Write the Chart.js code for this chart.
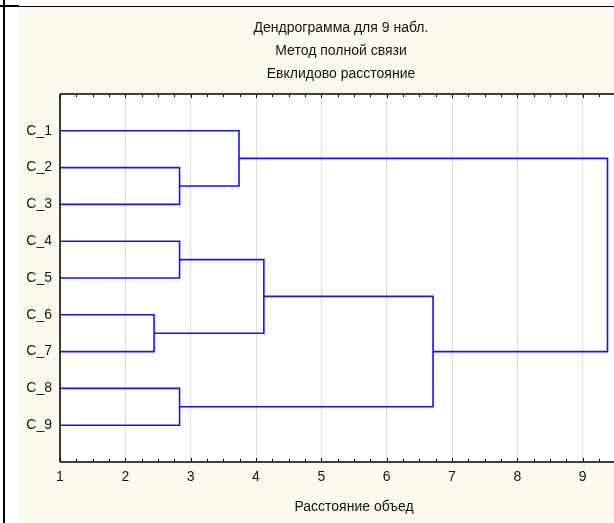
<!DOCTYPE html>
<html>
<head>
<meta charset="utf-8">
<script src="https://cdn.jsdelivr.net/npm/chart.js@4/dist/chart.umd.min.js"></script>
<style>
  html, body { margin: 0; padding: 0; width: 614px; height: 523px; overflow: hidden; background: #ffffff; }
  #vline { position: absolute; left: 3px; top: 0; width: 2px; height: 523px; background: #000; }
  #hline { position: absolute; left: 0; top: 6px; width: 614px; height: 1px; background: #000; }
  #hthick { position: absolute; left: 0; top: 5px; width: 19px; height: 2px; background: #000; }
  #panel { position: absolute; left: 19px; top: 7px; width: 644px; height: 516px; background: #fef9ee; }
</style>
</head>
<body>
<div id="vline"></div>
<div id="hline"></div>
<div id="hthick"></div>
<div id="panel"><canvas id="c"></canvas></div>
<script>
// ---- data ----
const titleLines = ['Дендрограмма для 9 набл.', 'Метод полной связи', 'Евклидово расстояние'];
const axisTitle = 'Расстояние объед';
const leaves = ['C_1', 'C_2', 'C_3', 'C_4', 'C_5', 'C_6', 'C_7', 'C_8', 'C_9'];
// merges: node ids 0..8 are leaves, new clusters get ids 9, 10, ...
const mergeLeft   = [1, 5, 3, 7, 0, 11, 14, 13];
const mergeRight  = [2, 6, 4, 8, 9, 10, 12, 15];
const mergeHeight = [2.83, 2.44, 2.83, 2.83, 3.74, 4.12, 6.71, 9.38];
const xTicks = [1, 2, 3, 4, 5, 6, 7, 8, 9, 10];

// ---- build link datasets from the linkage ----
const xMin = 1, xMax = 10;
const nodeX = [], nodeY = [];
leaves.forEach((_, i) => { nodeX.push(xMin); nodeY.push(i + 1); });
const datasets = [];
mergeHeight.forEach((h, k) => {
  const a = mergeLeft[k], b = mergeRight[k];
  datasets.push({
    data: [
      { x: nodeX[a], y: nodeY[a] },
      { x: h, y: nodeY[a] },
      { x: h, y: nodeY[b] },
      { x: nodeX[b], y: nodeY[b] }
    ]
  });
  nodeX.push(h);
  nodeY.push((nodeY[a] + nodeY[b]) / 2);
});

const FONT = "'Liberation Sans', Arial, sans-serif";
const TXT = '#141414';
const BLUE = '#1212ff';

const framePlugin = {
  id: 'frame',
  beforeDraw(chart) {
    const { ctx, chartArea: a } = chart;
    ctx.save();
    ctx.fillStyle = '#ffffff';
    ctx.fillRect(a.left, a.top, a.right - a.left, a.bottom - a.top);
    ctx.restore();
  },
  afterDatasetsDraw(chart) {
    const { ctx, chartArea: a, scales } = chart;
    const xs = scales.x;
    ctx.save();
    ctx.strokeStyle = '#000';
    ctx.lineWidth = 1.5;
    ctx.beginPath();
    ctx.moveTo(a.left, a.top); ctx.lineTo(a.right, a.top);
    ctx.moveTo(a.left, a.bottom); ctx.lineTo(a.right, a.bottom);
    ctx.moveTo(a.left, a.top); ctx.lineTo(a.left, a.bottom);
    ctx.stroke();
    ctx.lineWidth = 1;
    ctx.beginPath();
    for (let v = xMin; v <= xMax + 1e-9; v += 0.25) {
      const px = Math.round(xs.getPixelForValue(v)) + 0.5;
      const major = Math.abs(v - Math.round(v)) < 1e-9;
      const len = major ? 4 : 3;
      ctx.moveTo(px, a.top); ctx.lineTo(px, a.top + len);
      ctx.moveTo(px, a.bottom); ctx.lineTo(px, a.bottom - len);
    }
    ctx.stroke();
    ctx.restore();
  }
};

new Chart(document.getElementById('c'), {
  type: 'scatter',
  data: { datasets },
  options: {
    responsive: true,
    maintainAspectRatio: false,
    animation: false,
    layout: { padding: { left: 0, right: 0, top: 0, bottom: 0 } },
    elements: {
      line: { borderColor: BLUE, borderWidth: 1.6, tension: 0, fill: false },
      point: { radius: 0, hoverRadius: 0 }
    },
    datasets: { scatter: { showLine: true, borderColor: BLUE, borderWidth: 1.6, pointRadius: 0 } },
    plugins: {
      legend: { display: false },
      tooltip: { enabled: false },
      title: {
        display: true,
        text: titleLines,
        color: TXT,
        font: { family: FONT, size: 14, weight: 'normal', lineHeight: '23px' },
        padding: { top: 10, bottom: 8 }
      }
    },
    scales: {
      x: {
        type: 'linear',
        min: xMin,
        max: xMax,
        afterBuildTicks: (s) => { s.ticks = xTicks.map(v => ({ value: v })); },
        afterFit: (s) => { s.height = 61; },
        ticks: { color: TXT, font: { family: FONT, size: 14 }, padding: 7, maxRotation: 0 },
        grid: { color: '#dcdcdc', lineWidth: 1, drawTicks: false },
        border: { display: false },
        title: {
          display: true,
          text: axisTitle,
          color: TXT,
          font: { family: FONT, size: 14, lineHeight: 1.2 },
          padding: { top: 0, bottom: 7 }
        }
      },
      y: {
        type: 'linear',
        min: 0,
        max: leaves.length + 1,
        reverse: true,
        afterBuildTicks: (s) => { s.ticks = leaves.map((_, i) => ({ value: i + 1 })); },
        afterFit: (s) => { s.width = 41; },
        ticks: {
          color: TXT,
          font: { family: FONT, size: 14 },
          padding: 8,
          callback: (v) => leaves[Math.round(v) - 1] || ''
        },
        grid: { display: false, drawTicks: false },
        border: { display: false }
      },
      yr: {
        type: 'linear',
        axis: 'y',
        position: 'right',
        min: 0,
        max: 1,
        afterFit: (s) => { s.width = 15; },
        ticks: { display: false },
        grid: { display: false, drawTicks: false },
        border: { display: false }
      }
    }
  },
  plugins: [framePlugin]
});
</script>
</body>
</html>
